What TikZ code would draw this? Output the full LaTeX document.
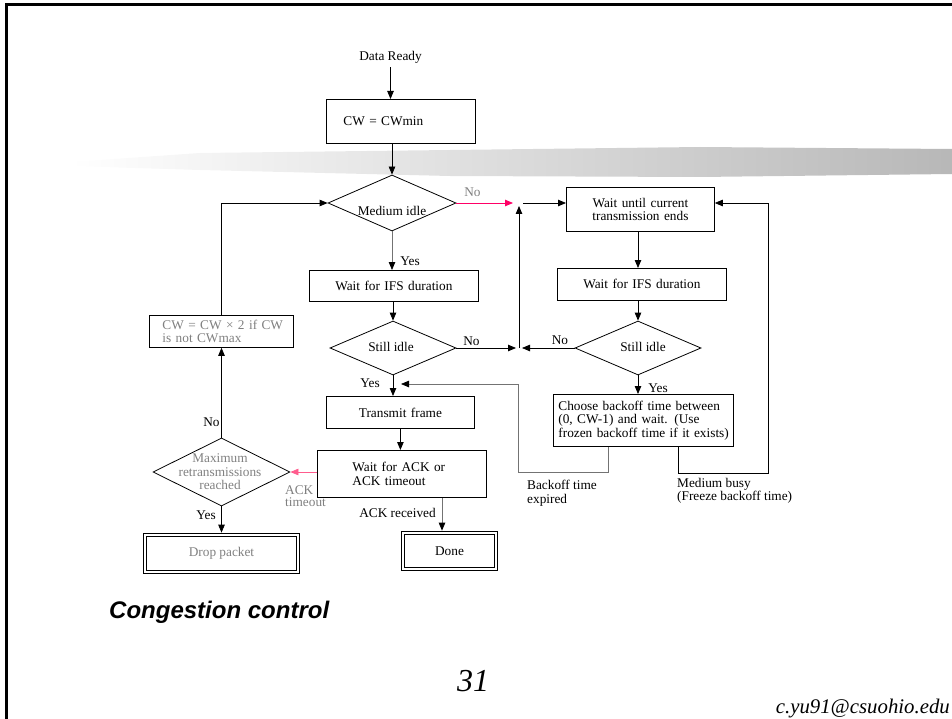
\documentclass[tikz,border=0pt]{standalone}
\usepackage{fontspec}
\setmainfont{Liberation Serif}
\setsansfont{Liberation Sans}
\usetikzlibrary{arrows.meta,shapes.geometric}
\definecolor{pinkA}{HTML}{FF0066}
\definecolor{pinkB}{HTML}{FF5C8D}
\definecolor{txtgray}{HTML}{808080}
\begin{document}
\begin{tikzpicture}[x=1pt,y=-1pt,
  every node/.style={font=\fontsize{13.3}{13.5}\selectfont, inner sep=0pt},
  box/.style={draw, rectangle, line width=0.8pt, anchor=north west, minimum height=#1},
  arr/.style={line width=0.8pt, -{Triangle[length=8pt,width=6.5pt]}},
  arrg/.style={line width=0.8pt, draw=black!55, -{Triangle[length=8pt,width=6.5pt,color=black]}},
  ln/.style={line width=0.8pt},
  dia/.style={draw, diamond, line width=0.8pt, inner sep=0pt},
  dbox/.style={draw, double, double distance=2.5pt, line width=0.7pt},
  lbl/.style={text=txtgray}
]
\useasboundingbox (0,0) rectangle (952,719);
% brush stroke
\shade[left color=white, middle color=black!20, right color=black!28] (70,162) -- (200,153) -- (450,150) -- (700,147) -- (952,149) -- (952,174) -- (700,177) -- (450,176) -- (200,170) -- (70,166) -- cycle;
% slide border
\draw[line width=2.8pt] (6.5,719) -- (6.5,4.7) -- (952,4.7);

% boxes
\node (dr) at (390.5,57) {Data Ready};
\node[box=44, text width=115pt, inner xsep=17pt, align=left] (cwmin) at (326,99) {CW = CWmin};
\node[box=32, text width=118pt, inner xsep=13pt, align=left, text=txtgray] (cw2) at (149,315) {\mbox{CW = CW × 2 if CW}\\\mbox{is not CWmax}};
\node[box=44, text width=148pt, align=center] (wu) at (566,187) {Wait until current\\transmission ends};
\node[box=31, text width=169pt, align=center] (wifsl) at (309,270) {Wait for IFS duration};
\node[box=32, text width=169pt, align=center] (wifsr) at (557,268) {Wait for IFS duration};
\node[box=32, text width=148pt, align=center] (tf) at (326,396) {Transmit frame};
\node[box=47, text width=99pt, inner xsep=35pt, align=left] (wack) at (317,450) {\mbox{Wait for ACK or}\\\mbox{ACK timeout}};
\node[box=52, text width=170pt, inner xsep=5pt, align=left] (cb) at (553,394) {\mbox{Choose backoff time between}\\\mbox{(0, CW-1) and wait. (Use}\\\mbox{frozen backoff time if it exists)}};
\node[dbox, minimum width=153pt, minimum height=37pt, text=txtgray] (drop) at (221.5,553.5) {Drop packet};
\node[dbox, minimum width=93pt, minimum height=36pt] (done) at (449.5,551) {Done};

% diamonds
\node[dia, minimum width=128pt, minimum height=56pt] (mi) at (392,203) {};
\node[dia, minimum width=126pt, minimum height=54pt] (sl) at (393,348) {};
\node[dia, minimum width=126pt, minimum height=54pt] (sr) at (638,348) {};
\node[dia, minimum width=137pt, minimum height=68pt] (mr) at (221.5,472) {};
\node (mit) at (392,211) {Medium idle};
\node (slt) at (391,347) {Still idle};
\node (srt) at (643,347) {Still idle};
\node[align=center, text=txtgray] (mrt) at (220,472) {Maximum\\retransmissions\\reached};

% junction points
\coordinate (jnl) at (513,203);
\coordinate (jnr) at (523,203);
\coordinate (jnb) at (519,206);
\coordinate (js) at (519,348);
\coordinate (jsl) at (516,348);
\coordinate (jsr) at (522,348);
\coordinate (bxA) at (608,472);
\coordinate (bxB) at (518,472);
\coordinate (bt) at (401,384);
\coordinate (mbA) at (678,473);
\coordinate (mbB) at (768,473);
\coordinate (ackx) at (442,0);

% connectors
\draw[arr] ([yshift=-4pt]dr.south) -- (dr.south |- cwmin.north);
\draw[arr] (cwmin.south -| mi) -- (mi.north);
\draw[arr, pinkA] (mi.east) -- (jnl);
\draw[arr] (jnr) -- (jnr -| wu.west);
\draw[arr] (js) -- (jnb);
\draw[arr] (sl.east) -- (jsl);
\draw[arr] (sr.west) -- (jsr);
\draw[arr] (wu.south -| sr) -- (wifsr.north -| sr);
\draw[arr] (wifsr.south -| sr) -- (sr.north);
\draw[arr] (sr.south) -- (sr.south |- cb.north);
\draw[arr] (cb.south -| mbA) -- (mbA) -- (mbB) -- (mbB |- jnr) -- (jnr -| wu.east);
\draw[arrg] (cb.south -| bxA) -- (bxA) -- (bxB) -- (bxB |- bt) -- (bt);
\draw[arrg] (mi.south) -- (mi.south |- wifsl.north);
\draw[arr] (wifsl.south -| sl) -- (sl.north);
\draw[arr] (sl.south) -- (sl.south |- tf.north);
\draw[arr] (tf.south) -- (tf.south |- wack.north);
\draw[arr, pinkB] (mr.east -| wack.west) -- (mr.east);
\draw[arrg] (wack.south -| ackx) -- ([yshift=2pt]done.north -| ackx);
\draw[arr] (mr.south) -- ([yshift=2pt]drop.north);
\draw[arr] (mr.north) -- (mr |- cw2.south);
\draw[arr] (mr |- cw2.north) -- (mr |- mi.west) -- (mi.west);

% labels
\node[lbl] (noA) at (472.5,192) {No};
\node (yesA) at (410,261) {Yes};
\node (noB) at (471.5,341) {No};
\node (noC) at (560,340) {No};
\node (yesB) at (370,383) {Yes};
\node (yesC) at (658,388) {Yes};
\node (noD) at (211.5,422) {No};
\node (yesD) at (206,515) {Yes};
\node[lbl, anchor=west, align=left, font=\fontsize{13.3}{12}\selectfont] (ackto) at (285,496) {ACK\\timeout};
\node (ackr) at (397.5,513) {ACK received};
\node[anchor=west, align=left, font=\fontsize{13.3}{14}\selectfont] (bte) at (527,493) {Backoff time\\expired};
\node[anchor=west, align=left, font=\fontsize{13.3}{12}\selectfont] (mbz) at (677,491) {Medium busy\\(Freeze backoff time)};

% slide texts
\node[anchor=west, font=\sffamily\bfseries\itshape\fontsize{24}{28}\selectfont] (title) at (109,612) {Congestion control};
\node[font=\itshape\fontsize{32}{36}\selectfont] (pg) at (473,681) {31};
\node[anchor=base east, font=\itshape\fontsize{20.8}{24}\selectfont] (mail) at (950,713) {c.yu91@csuohio.edu};
\end{tikzpicture}
\end{document}
